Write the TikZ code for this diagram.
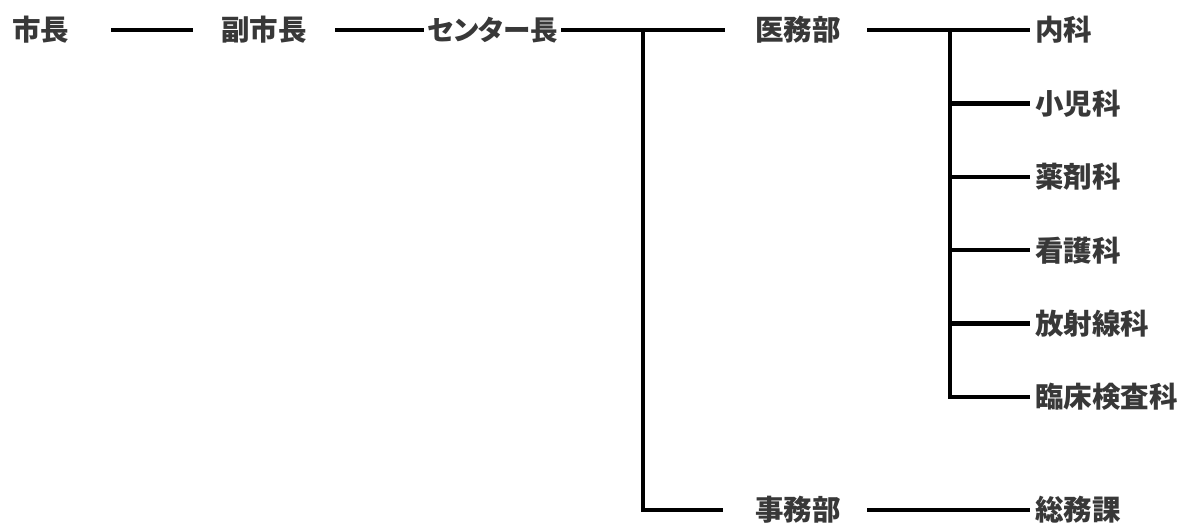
\documentclass[tikz,border=0pt]{standalone}
\usepackage{fontspec}
\newfontfamily\cjk{Noto Sans CJK JP}
\newfontfamily\cjkp[RawFeature=+palt]{Noto Sans CJK JP}
\begin{document}
\begin{tikzpicture}[x=1pt,y=-1pt,
  lbl/.style={anchor=west,inner sep=0pt,font=\cjk\bfseries\fontsize{28.5}{31}\selectfont,text=black!78},
  conn/.style={line width=4.5pt,black}]
\useasboundingbox (0,0) rectangle (1183,525);
% top row
\node[lbl] (shicho) at (12,30) {市長};
\node[lbl] (fuku) at (221,30) {副市長};
\node[lbl,font=\cjkp\bfseries\fontsize{27.5}{31}\selectfont] (center) at (427,30) {センター長};
\node[lbl] (imu) at (755,30) {医務部};
\node[lbl] (jimu) at (755,510) {事務部};
% departments
\node[lbl] (naika) at (1035,30) {内科};
\node[lbl] (shoni) at (1035,103.4) {小児科};
\node[lbl] (yakuzai) at (1035,176.8) {薬剤科};
\node[lbl] (kango) at (1035,250.2) {看護科};
\node[lbl] (hoshasen) at (1035,323.6) {放射線科};
\node[lbl] (rinsho) at (1035,397) {臨床検査科};
\node[lbl] (somu) at (1035,510) {総務課};
% junction coordinates
\coordinate (jA) at (643,30);
\coordinate (jB) at (950,30);
% connectors
\draw[conn] (shicho.east -| 111,0) -- (fuku.west -| 193,0);
\draw[conn] (fuku.east -| 335,0) -- ([xshift=-3pt]center.west);
\draw[conn] (center.east -| 561,0) -- (imu.west -| 725,0);
\draw[conn] (jA) |- (jimu.west -| 723,0);
\draw[conn] (imu.east -| 867,0) -- ([xshift=-5pt]naika.west);
\draw[conn] (jB) |- ([xshift=-5pt]rinsho.west);
\foreach \n in {shoni,yakuzai,kango,hoshasen}
  \draw[conn] (jB |- \n.west) -- ([xshift=-5pt]\n.west);
\draw[conn] (jimu.east -| 867,0) -- ([xshift=-5pt]somu.west);
\end{tikzpicture}
\end{document}
